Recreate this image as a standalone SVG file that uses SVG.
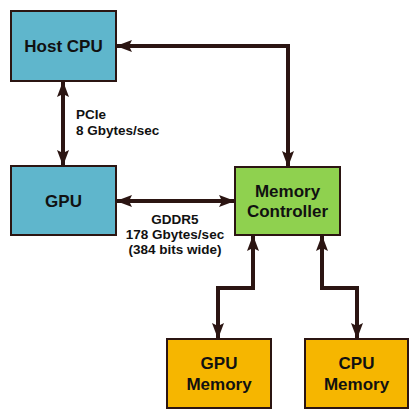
<svg xmlns="http://www.w3.org/2000/svg" width="420" height="420" viewBox="0 0 420 420">
<defs>
<marker id="ah" viewBox="0 0 16 12" refX="15" refY="6" markerWidth="16" markerHeight="12" markerUnits="userSpaceOnUse" orient="auto-start-reverse">
<path d="M0,0 L16,6 L0,12 L3,6 Z" fill="#2b1512"/>
</marker>
</defs>
<style>
.box{stroke:#2b1512;stroke-width:2}
.blue{fill:#5fb6cc}
.green{fill:#8fd14f}
.orange{fill:#f6b600}
.lbl{font-family:"Liberation Sans",Arial,sans-serif;font-weight:bold;fill:#111;text-anchor:middle}
.big{font-size:17px}
.small{font-size:13.5px}
.conn{fill:none;stroke:#2b1512;stroke-width:4;marker-start:url(#ah);marker-end:url(#ah)}
</style>
<rect width="420" height="420" fill="#ffffff"/>
<g id="connectors">
<path class="conn" d="M288,166 L288,46 L117,46"/>
<path class="conn" d="M63,82 L63,165"/>
<path class="conn" d="M117,201 L234,201"/>
<path class="conn" d="M253,236 L253,288 L218,288 L218,338"/>
<path class="conn" d="M322,236 L322,288 L357,288 L357,338"/>
</g>
<g id="host-cpu">
<rect class="box blue" x="11" y="11" width="105" height="70"/>
<text class="lbl big" x="63.5" y="52">Host CPU</text>
</g>
<g id="gpu">
<rect class="box blue" x="11" y="166" width="105" height="69"/>
<text class="lbl big" x="63.5" y="207">GPU</text>
</g>
<g id="memory-controller">
<rect class="box green" x="235" y="167" width="105" height="68"/>
<text class="lbl big" x="287.5" y="197">Memory</text>
<text class="lbl big" x="287.5" y="217">Controller</text>
</g>
<g id="gpu-memory">
<rect class="box orange" x="167" y="339" width="104" height="69"/>
<text class="lbl big" x="219" y="369">GPU</text>
<text class="lbl big" x="219" y="390">Memory</text>
</g>
<g id="cpu-memory">
<rect class="box orange" x="305" y="339" width="103" height="69"/>
<text class="lbl big" x="356.5" y="369">CPU</text>
<text class="lbl big" x="356.5" y="390">Memory</text>
</g>
<g id="labels">
<text class="lbl small" x="76" y="119" style="text-anchor:start">PCIe</text>
<text class="lbl small" x="76" y="135" style="text-anchor:start">8 Gbytes/sec</text>
<text class="lbl small" x="175" y="224">GDDR5</text>
<text class="lbl small" x="175" y="239">178 Gbytes/sec</text>
<text class="lbl small" x="175" y="254">(384 bits wide)</text>
</g>
</svg>
